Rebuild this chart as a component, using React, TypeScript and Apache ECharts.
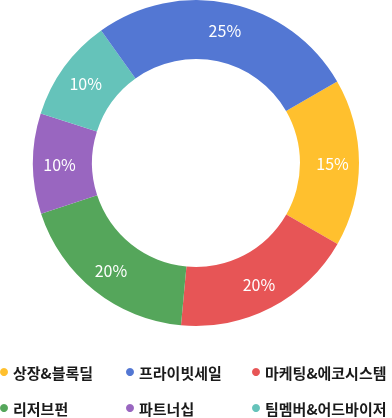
import React, { useEffect, useRef } from "react";
import * as echarts from "echarts";

// slices in clockwise drawing order, starting at 30°
const sliceNames = ["상장&블록딜", "마케팅&에코시스템", "리저브펀", "파트너십", "팀멤버&어드바이저", "프라이빗세일"];
const sliceValues = [16.6, 18.2, 18.5, 9.95, 10.2, 26.55];
// printed labels
const sliceLabels = ["15%", "20%", "20%", "10%", "10%", "25%"];
const sliceColors = ["#FFC02E", "#E75556", "#55A65B", "#9966C0", "#65C3BA", "#5377D3"];
const legendOrder = ["상장&블록딜", "프라이빗세일", "마케팅&에코시스템", "리저브펀", "파트너십", "팀멤버&어드바이저"];

export default function App() {
  const ref = useRef<HTMLDivElement>(null);
  useEffect(() => {
    if (!ref.current) return;
    const chart = echarts.init(ref.current, undefined, { renderer: "svg" });
    chart.setOption({
      animation: false,
      legend: {
        data: legendOrder,
        left: 0,
        top: 359,
        width: 392,
        orient: "horizontal",
        icon: "circle",
        itemWidth: 8,
        itemHeight: 8,
        itemGap: 10,
        padding: 0,
        textStyle: {
          fontFamily: "Noto Sans CJK KR",
          fontSize: 15,
          fontWeight: "bold",
          color: "#1a1a1a",
          width: 103,
          lineHeight: 26,
          overflow: "none",
        },
      },
      series: [
        {
          type: "pie",
          center: [196, 163],
          radius: [104, 163],
          startAngle: 30,
          clockwise: true,
          avoidLabelOverlap: false,
          label: {
            show: true,
            position: "inside",
            formatter: (p: any) => sliceLabels[p.dataIndex],
            color: "#fff",
            fontFamily: "Noto Sans CJK KR",
            fontSize: 16,
          },
          labelLine: { show: false },
          emphasis: { disabled: true },
          data: sliceNames.map((n, i) => ({
            name: n,
            value: sliceValues[i],
            itemStyle: { color: sliceColors[i] },
          })),
        },
      ],
    });
    return () => chart.dispose();
  }, []);
  return (
    <div
      ref={ref}
      style={{ position: "fixed", left: 0, top: 0, width: 392, height: 418 }}
    />
  );
}
